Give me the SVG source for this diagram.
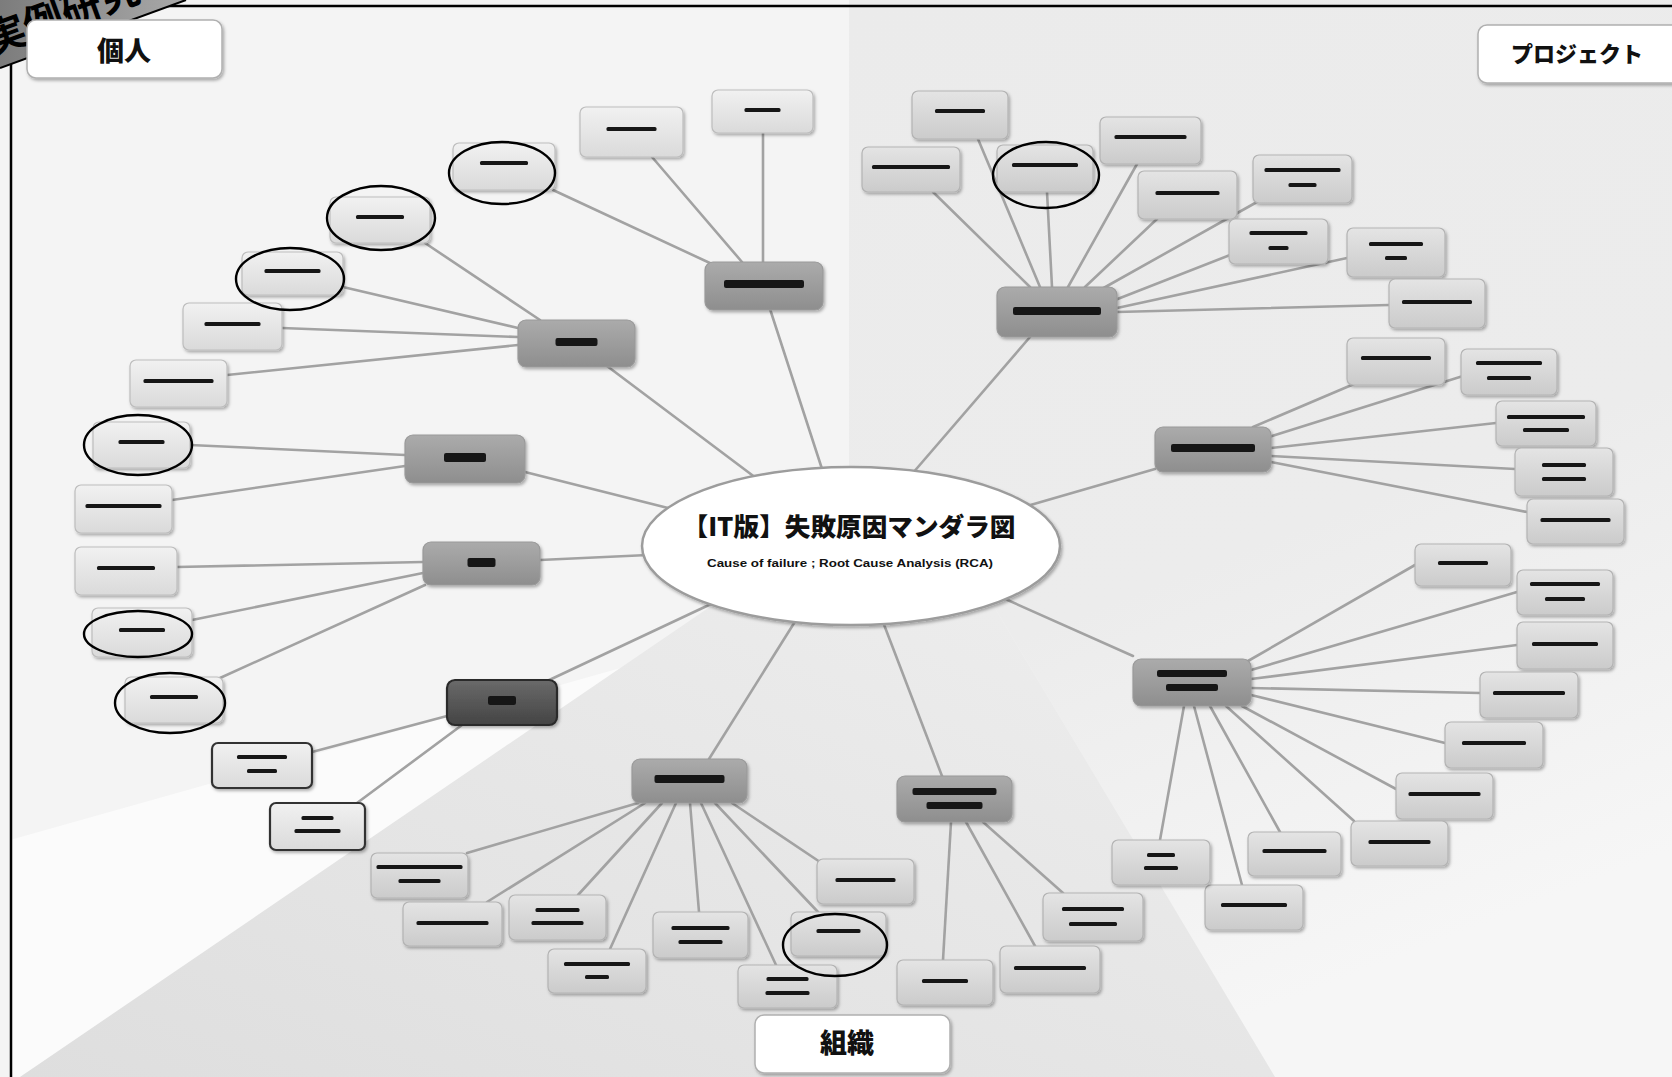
<svg xmlns="http://www.w3.org/2000/svg" width="1672" height="1077" viewBox="0 0 1672 1077">
  <defs>
    <linearGradient id="gTR" x1="0" y1="0" x2="0.3" y2="1">
      <stop offset="0" stop-color="#ebebeb"/>
      <stop offset="0.6" stop-color="#ececec"/>
      <stop offset="1" stop-color="#f6f6f6"/>
    </linearGradient>
    <linearGradient id="gWedge" x1="0" y1="1" x2="1" y2="0">
      <stop offset="0" stop-color="#dedede"/>
      <stop offset="1" stop-color="#eeeeee"/>
    </linearGradient>
    <linearGradient id="gLeaf" x1="0" y1="0" x2="0" y2="1">
      <stop offset="0" stop-color="#f1f1f1"/>
      <stop offset="1" stop-color="#dadada"/>
    </linearGradient>
    <linearGradient id="gLeaf2" x1="0" y1="0" x2="0" y2="1">
      <stop offset="0" stop-color="#e4e4e4"/>
      <stop offset="1" stop-color="#cbcbcb"/>
    </linearGradient>
    <linearGradient id="gCat" x1="0" y1="0" x2="0" y2="1">
      <stop offset="0" stop-color="#ababab"/>
      <stop offset="1" stop-color="#8e8e8e"/>
    </linearGradient>
    <linearGradient id="gDark" x1="0" y1="0" x2="0" y2="1">
      <stop offset="0" stop-color="#6a6a6a"/>
      <stop offset="1" stop-color="#444444"/>
    </linearGradient>
    <linearGradient id="gStamp" x1="0" y1="0" x2="1" y2="0">
      <stop offset="0" stop-color="#7c7c7c"/>
      <stop offset="1" stop-color="#a9a9a9"/>
    </linearGradient>
    <filter id="sh" x="-10%" y="-10%" width="125%" height="135%">
      <feDropShadow dx="1.5" dy="2" stdDeviation="1.5" flood-color="#000" flood-opacity="0.3"/>
    </filter>
    <filter id="soft"><feGaussianBlur stdDeviation="0.6"/></filter>
    <clipPath id="stampClip"><polygon points="0,0 186,0 0,68"/></clipPath>
  </defs>
  <style>
    .edge line { stroke: #a2a2a2; stroke-width: 2.6; stroke-linecap: round; }
    .box { filter: url(#sh); }
    .leaf .box { fill: url(#gLeaf); stroke: #bdbdbd; stroke-width: 1.2; }
    .leaf2 .box { fill: url(#gLeaf2); stroke: #b3b3b3; stroke-width: 1.2; }
    .dleaf .box { fill: url(#gLeaf); stroke: #333; stroke-width: 2.2; }
    .cat .box { fill: url(#gCat); stroke: #9a9a9a; stroke-width: 1.2; }
    .catd .box { fill: url(#gDark); stroke: #2a2a2a; stroke-width: 2.2; }
    .t { fill: #161616; filter: url(#soft); }
    .mark { fill: none; stroke: #000; stroke-width: 2.4; }
    .label .box { fill: #fff; stroke: #b0b0b0; stroke-width: 1.5; }
    .lt { font-family: "Noto Sans CJK JP", "Noto Sans CJK SC", sans-serif; font-weight: 900; fill: #111; text-anchor: middle; }
  </style>

  <!-- background regions -->
  <rect x="0" y="0" width="1672" height="1077" fill="#f4f4f4"/>
  <polygon points="849,0 1672,0 1672,1077 1275,1077 990,600 849,540" fill="url(#gTR)"/>
  <polygon points="720,640 10,840 10,1077 20,1077" fill="#fbfbfb"/>
  <polygon points="720,600 20,1077 1275,1077 990,600" fill="url(#gWedge)"/>

  <!-- outer frame -->
  <rect x="11" y="6" width="1690" height="1100" fill="none" stroke="#000" stroke-width="2.5"/>

  <!-- corner stamp -->
  <g id="stamp">
    <polygon points="0,0 186,0 0,68" fill="url(#gStamp)"/>
    <g clip-path="url(#stampClip)">
      <text x="-8" y="55" transform="rotate(-20 -8 55)" font-family="Noto Sans CJK JP, sans-serif" font-size="40" font-weight="700" fill="#000">実例研究</text>
    </g>
    <line x1="0" y1="68" x2="186" y2="0" stroke="#000" stroke-width="2"/>
  </g>

  <!-- connectors -->
  <g id="connectors" class="edge">
    <line x1="770" y1="309" x2="823" y2="472"/>
    <line x1="763" y1="133" x2="763" y2="262"/>
    <line x1="652" y1="157" x2="742" y2="262"/>
    <line x1="553" y1="190" x2="712" y2="264"/>
    <line x1="607" y1="366" x2="756" y2="478"/>
    <line x1="425" y1="243" x2="540" y2="320"/>
    <line x1="343" y1="287" x2="518" y2="328"/>
    <line x1="282" y1="328" x2="518" y2="337"/>
    <line x1="227" y1="375" x2="518" y2="345"/>
    <line x1="525" y1="472" x2="668" y2="508"/>
    <line x1="190" y1="445" x2="405" y2="455"/>
    <line x1="172" y1="500" x2="405" y2="466"/>
    <line x1="540" y1="560" x2="648" y2="555"/>
    <line x1="177" y1="567" x2="423" y2="562"/>
    <line x1="192" y1="620" x2="423" y2="573"/>
    <line x1="220" y1="678" x2="425" y2="585"/>
    <line x1="545" y1="682" x2="711" y2="604"/>
    <line x1="312" y1="752" x2="447" y2="716"/>
    <line x1="357" y1="803" x2="462" y2="725"/>
    <line x1="709" y1="759" x2="796" y2="620"/>
    <line x1="467" y1="853" x2="638" y2="803"/>
    <line x1="487" y1="902" x2="645" y2="803"/>
    <line x1="578" y1="895" x2="662" y2="803"/>
    <line x1="610" y1="949" x2="676" y2="803"/>
    <line x1="699" y1="912" x2="690" y2="803"/>
    <line x1="776" y1="965" x2="701" y2="803"/>
    <line x1="818" y1="912" x2="715" y2="803"/>
    <line x1="820" y1="862" x2="732" y2="803"/>
    <line x1="942" y1="776" x2="883" y2="622"/>
    <line x1="943" y1="960" x2="951" y2="822"/>
    <line x1="1035" y1="946" x2="966" y2="822"/>
    <line x1="1063" y1="893" x2="983" y2="822"/>
    <line x1="1030" y1="337" x2="912" y2="474"/>
    <line x1="978" y1="139" x2="1040" y2="287"/>
    <line x1="933" y1="192" x2="1030" y2="287"/>
    <line x1="1047" y1="192" x2="1052" y2="287"/>
    <line x1="1137" y1="164" x2="1068" y2="287"/>
    <line x1="1157" y1="219" x2="1085" y2="287"/>
    <line x1="1257" y1="202" x2="1100" y2="290"/>
    <line x1="1230" y1="255" x2="1115" y2="300"/>
    <line x1="1347" y1="258" x2="1117" y2="308"/>
    <line x1="1389" y1="305" x2="1117" y2="312"/>
    <line x1="1155" y1="469" x2="1027" y2="506"/>
    <line x1="1354" y1="384" x2="1253" y2="427"/>
    <line x1="1463" y1="376" x2="1269" y2="437"/>
    <line x1="1496" y1="423" x2="1271" y2="448"/>
    <line x1="1515" y1="469" x2="1271" y2="456"/>
    <line x1="1527" y1="512" x2="1271" y2="462"/>
    <line x1="1133" y1="656" x2="1003" y2="598"/>
    <line x1="1415" y1="565" x2="1248" y2="661"/>
    <line x1="1517" y1="592" x2="1251" y2="670"/>
    <line x1="1517" y1="645" x2="1251" y2="679"/>
    <line x1="1480" y1="693" x2="1251" y2="688"/>
    <line x1="1445" y1="743" x2="1251" y2="695"/>
    <line x1="1396" y1="789" x2="1242" y2="706"/>
    <line x1="1354" y1="821" x2="1226" y2="706"/>
    <line x1="1280" y1="832" x2="1210" y2="706"/>
    <line x1="1242" y1="885" x2="1194" y2="706"/>
    <line x1="1160" y1="840" x2="1184" y2="706"/>
  </g>

  <!-- central theme -->
  <g id="center">
    <ellipse cx="851" cy="546" rx="209" ry="79" fill="#fff" stroke="#9c9c9c" stroke-width="2.5" filter="url(#sh)"/>
    <text class="lt" x="849" y="536" font-size="25" textLength="333" lengthAdjust="spacingAndGlyphs">【IT版】失敗原因マンダラ図</text>
    <text x="850" y="567" font-family="Liberation Sans, Arial, sans-serif" font-size="11" font-weight="700" fill="#111" text-anchor="middle" textLength="286" lengthAdjust="spacingAndGlyphs">Cause of failure ; Root Cause Analysis (RCA)</text>
  </g>

  <!-- area labels -->
  <g id="lbl-kojin" class="label"><rect class="box" x="27" y="20" width="195" height="58" rx="9"/><text class="lt" x="124" y="61" font-size="27">個人</text></g>
  <g id="lbl-project" class="label"><rect class="box" x="1478" y="25" width="215" height="58" rx="9"/><text class="lt" x="1577" y="62" font-size="22">プロジェクト</text></g>
  <g id="lbl-soshiki" class="label"><rect class="box" x="755" y="1015" width="195" height="58" rx="9"/><text class="lt" x="847" y="1053" font-size="27">組織</text></g>

  <!-- category nodes -->
  <g id="catA" class="cat" transform="translate(705,262)"><rect class="box" width="118" height="48" rx="8"/><rect class="t" x="19" y="18" width="80" height="8" rx="2"/></g>
  <g id="catB" class="cat" transform="translate(518,320)"><rect class="box" width="117" height="47" rx="8"/><rect class="t" x="37.5" y="18" width="42" height="8" rx="2"/></g>
  <g id="catC" class="cat" transform="translate(405,435)"><rect class="box" width="120" height="48" rx="8"/><rect class="t" x="39" y="18" width="42" height="9" rx="2"/></g>
  <g id="catD" class="cat" transform="translate(423,542)"><rect class="box" width="117" height="43" rx="8"/><rect class="t" x="44.5" y="16" width="28" height="9" rx="2"/></g>
  <g id="catE" class="catd" transform="translate(447,680)"><rect class="box" width="110" height="45" rx="8"/><rect class="t" x="41" y="16" width="28" height="9" rx="2"/></g>
  <g id="catF" class="cat" transform="translate(632,759)"><rect class="box" width="115" height="44" rx="8"/><rect class="t" x="22.5" y="16" width="70" height="8" rx="2"/></g>
  <g id="catG" class="cat" transform="translate(897,776)"><rect class="box" width="115" height="46" rx="8"/><rect class="t" x="15.5" y="12" width="84" height="7" rx="2"/><rect class="t" x="29.5" y="26" width="56" height="7" rx="2"/></g>
  <g id="catH" class="cat" transform="translate(997,287)"><rect class="box" width="120" height="50" rx="8"/><rect class="t" x="16" y="20" width="88" height="8" rx="2"/></g>
  <g id="catI" class="cat" transform="translate(1155,427)"><rect class="box" width="116" height="45" rx="8"/><rect class="t" x="16" y="17" width="84" height="8" rx="2"/></g>
  <g id="catJ" class="cat" transform="translate(1133,659)"><rect class="box" width="118" height="47" rx="8"/><rect class="t" x="24" y="11" width="70" height="7" rx="2"/><rect class="t" x="33" y="25" width="52" height="7" rx="2"/></g>

  <!-- leaf nodes: 個人 -->
  <g id="a1" class="leaf" transform="translate(712,90)"><rect class="box" width="101" height="43" rx="6"/><rect class="t" x="32.5" y="18" width="36" height="4" rx="1.5"/></g>
  <g id="a2" class="leaf" transform="translate(580,107)"><rect class="box" width="103" height="50" rx="6"/><rect class="t" x="26.5" y="20" width="50" height="4" rx="1.5"/></g>
  <g id="a3" class="leaf" transform="translate(453,143)"><rect class="box" width="102" height="47" rx="6"/><rect class="t" x="27" y="18" width="48" height="4" rx="1.5"/></g>
  <g id="b1" class="leaf" transform="translate(330,197)"><rect class="box" width="100" height="46" rx="6"/><rect class="t" x="26" y="18" width="48" height="4" rx="1.5"/></g>
  <g id="b2" class="leaf" transform="translate(242,252)"><rect class="box" width="101" height="43" rx="6"/><rect class="t" x="22.5" y="17" width="56" height="4" rx="1.5"/></g>
  <g id="b3" class="leaf" transform="translate(183,303)"><rect class="box" width="99" height="47" rx="6"/><rect class="t" x="21.5" y="19" width="56" height="4" rx="1.5"/></g>
  <g id="b4" class="leaf" transform="translate(130,360)"><rect class="box" width="97" height="47" rx="6"/><rect class="t" x="13.5" y="19" width="70" height="4" rx="1.5"/></g>
  <g id="c1" class="leaf" transform="translate(93,422)"><rect class="box" width="97" height="46" rx="6"/><rect class="t" x="25.5" y="18" width="46" height="4" rx="1.5"/></g>
  <g id="c2" class="leaf" transform="translate(75,485)"><rect class="box" width="97" height="48" rx="6"/><rect class="t" x="10.5" y="19" width="76" height="4" rx="1.5"/></g>
  <g id="d1" class="leaf" transform="translate(75,547)"><rect class="box" width="102" height="48" rx="6"/><rect class="t" x="22" y="19" width="58" height="4" rx="1.5"/></g>
  <g id="d2" class="leaf" transform="translate(92,608)"><rect class="box" width="100" height="49" rx="6"/><rect class="t" x="27" y="20" width="46" height="4" rx="1.5"/></g>
  <g id="d3" class="leaf" transform="translate(125,677)"><rect class="box" width="98" height="46" rx="6"/><rect class="t" x="25" y="18" width="48" height="4" rx="1.5"/></g>
  <g id="e1" class="dleaf" transform="translate(212,743)"><rect class="box" width="100" height="45" rx="6"/><rect class="t" x="25" y="12" width="50" height="4" rx="1.5"/><rect class="t" x="35" y="26" width="30" height="4" rx="1.5"/></g>
  <g id="e2" class="dleaf" transform="translate(270,803)"><rect class="box" width="95" height="47" rx="6"/><rect class="t" x="31.5" y="13" width="32" height="4" rx="1.5"/><rect class="t" x="24.5" y="26" width="46" height="4" rx="1.5"/></g>

  <!-- leaf nodes: 組織 -->
  <g id="f1" class="leaf2" transform="translate(371,853)"><rect class="box" width="97" height="45" rx="6"/><rect class="t" x="5.5" y="12" width="86" height="4" rx="1.5"/><rect class="t" x="27.5" y="26" width="42" height="4" rx="1.5"/></g>
  <g id="f2" class="leaf2" transform="translate(403,902)"><rect class="box" width="99" height="44" rx="6"/><rect class="t" x="13.5" y="19" width="72" height="4" rx="1.5"/></g>
  <g id="f3" class="leaf2" transform="translate(509,895)"><rect class="box" width="97" height="45" rx="6"/><rect class="t" x="26.5" y="13" width="44" height="4" rx="1.5"/><rect class="t" x="22.5" y="26" width="52" height="4" rx="1.5"/></g>
  <g id="f4" class="leaf2" transform="translate(548,949)"><rect class="box" width="98" height="44" rx="6"/><rect class="t" x="16" y="13" width="66" height="4" rx="1.5"/><rect class="t" x="37" y="26" width="24" height="4" rx="1.5"/></g>
  <g id="f5" class="leaf2" transform="translate(653,912)"><rect class="box" width="95" height="46" rx="6"/><rect class="t" x="18.5" y="14" width="58" height="4" rx="1.5"/><rect class="t" x="25.5" y="28" width="44" height="4" rx="1.5"/></g>
  <g id="f6" class="leaf2" transform="translate(738,965)"><rect class="box" width="99" height="43" rx="6"/><rect class="t" x="28.5" y="12" width="42" height="4" rx="1.5"/><rect class="t" x="27.5" y="26" width="44" height="4" rx="1.5"/></g>
  <g id="f7" class="leaf2" transform="translate(791,912)"><rect class="box" width="95" height="44" rx="6"/><rect class="t" x="25.5" y="17" width="44" height="4" rx="1.5"/></g>
  <g id="f8" class="leaf2" transform="translate(817,859)"><rect class="box" width="97" height="45" rx="6"/><rect class="t" x="18.5" y="19" width="60" height="4" rx="1.5"/></g>
  <g id="g1" class="leaf2" transform="translate(897,960)"><rect class="box" width="96" height="45" rx="6"/><rect class="t" x="25" y="19" width="46" height="4" rx="1.5"/></g>
  <g id="g2" class="leaf2" transform="translate(1000,946)"><rect class="box" width="100" height="47" rx="6"/><rect class="t" x="14" y="20" width="72" height="4" rx="1.5"/></g>
  <g id="g3" class="leaf2" transform="translate(1043,893)"><rect class="box" width="100" height="48" rx="6"/><rect class="t" x="19" y="14" width="62" height="4" rx="1.5"/><rect class="t" x="26" y="29" width="48" height="4" rx="1.5"/></g>

  <!-- leaf nodes: プロジェクト -->
  <g id="h1" class="leaf2" transform="translate(912,91)"><rect class="box" width="96" height="48" rx="6"/><rect class="t" x="23" y="18" width="50" height="4" rx="1.5"/></g>
  <g id="h2" class="leaf2" transform="translate(862,147)"><rect class="box" width="98" height="45" rx="6"/><rect class="t" x="10" y="18" width="78" height="4" rx="1.5"/></g>
  <g id="h3" class="leaf2" transform="translate(997,145)"><rect class="box" width="96" height="47" rx="6"/><rect class="t" x="15" y="18" width="66" height="4" rx="1.5"/></g>
  <g id="h4" class="leaf2" transform="translate(1100,117)"><rect class="box" width="101" height="47" rx="6"/><rect class="t" x="14.5" y="18" width="72" height="4" rx="1.5"/></g>
  <g id="h5" class="leaf2" transform="translate(1138,171)"><rect class="box" width="99" height="48" rx="6"/><rect class="t" x="17.5" y="20" width="64" height="4" rx="1.5"/></g>
  <g id="h6" class="leaf2" transform="translate(1253,155)"><rect class="box" width="99" height="48" rx="6"/><rect class="t" x="11.5" y="13" width="76" height="4" rx="1.5"/><rect class="t" x="35.5" y="28" width="28" height="4" rx="1.5"/></g>
  <g id="h7" class="leaf2" transform="translate(1229,219)"><rect class="box" width="99" height="45" rx="6"/><rect class="t" x="20.5" y="12" width="58" height="4" rx="1.5"/><rect class="t" x="39.5" y="27" width="20" height="4" rx="1.5"/></g>
  <g id="h8" class="leaf2" transform="translate(1347,228)"><rect class="box" width="98" height="49" rx="6"/><rect class="t" x="22" y="14" width="54" height="4" rx="1.5"/><rect class="t" x="38" y="28" width="22" height="4" rx="1.5"/></g>
  <g id="h9" class="leaf2" transform="translate(1389,279)"><rect class="box" width="96" height="49" rx="6"/><rect class="t" x="13" y="21" width="70" height="4" rx="1.5"/></g>
  <g id="i1" class="leaf2" transform="translate(1347,338)"><rect class="box" width="98" height="47" rx="6"/><rect class="t" x="14" y="18" width="70" height="4" rx="1.5"/></g>
  <g id="i2" class="leaf2" transform="translate(1461,349)"><rect class="box" width="96" height="46" rx="6"/><rect class="t" x="15" y="12" width="66" height="4" rx="1.5"/><rect class="t" x="26" y="27" width="44" height="4" rx="1.5"/></g>
  <g id="i3" class="leaf2" transform="translate(1496,401)"><rect class="box" width="100" height="45" rx="6"/><rect class="t" x="11" y="14" width="78" height="4" rx="1.5"/><rect class="t" x="27" y="27" width="46" height="4" rx="1.5"/></g>
  <g id="i4" class="leaf2" transform="translate(1515,448)"><rect class="box" width="98" height="48" rx="6"/><rect class="t" x="27" y="15" width="44" height="4" rx="1.5"/><rect class="t" x="27" y="29" width="44" height="4" rx="1.5"/></g>
  <g id="i5" class="leaf2" transform="translate(1527,499)"><rect class="box" width="97" height="45" rx="6"/><rect class="t" x="13.5" y="19" width="70" height="4" rx="1.5"/></g>
  <g id="j1" class="leaf2" transform="translate(1415,544)"><rect class="box" width="96" height="42" rx="6"/><rect class="t" x="23" y="17" width="50" height="4" rx="1.5"/></g>
  <g id="j2" class="leaf2" transform="translate(1517,570)"><rect class="box" width="96" height="45" rx="6"/><rect class="t" x="13" y="12" width="70" height="4" rx="1.5"/><rect class="t" x="28" y="27" width="40" height="4" rx="1.5"/></g>
  <g id="j3" class="leaf2" transform="translate(1517,622)"><rect class="box" width="96" height="47" rx="6"/><rect class="t" x="15" y="20" width="66" height="4" rx="1.5"/></g>
  <g id="j4" class="leaf2" transform="translate(1480,672)"><rect class="box" width="98" height="46" rx="6"/><rect class="t" x="13" y="19" width="72" height="4" rx="1.5"/></g>
  <g id="j5" class="leaf2" transform="translate(1445,722)"><rect class="box" width="98" height="46" rx="6"/><rect class="t" x="17" y="19" width="64" height="4" rx="1.5"/></g>
  <g id="j6" class="leaf2" transform="translate(1396,773)"><rect class="box" width="97" height="46" rx="6"/><rect class="t" x="12.5" y="19" width="72" height="4" rx="1.5"/></g>
  <g id="j7" class="leaf2" transform="translate(1351,821)"><rect class="box" width="97" height="45" rx="6"/><rect class="t" x="17.5" y="19" width="62" height="4" rx="1.5"/></g>
  <g id="j8" class="leaf2" transform="translate(1248,832)"><rect class="box" width="93" height="44" rx="6"/><rect class="t" x="14.5" y="17" width="64" height="4" rx="1.5"/></g>
  <g id="j9" class="leaf2" transform="translate(1205,885)"><rect class="box" width="98" height="45" rx="6"/><rect class="t" x="16" y="18" width="66" height="4" rx="1.5"/></g>
  <g id="j10" class="leaf2" transform="translate(1112,840)"><rect class="box" width="98" height="45" rx="6"/><rect class="t" x="35" y="13" width="28" height="4" rx="1.5"/><rect class="t" x="32" y="26" width="34" height="4" rx="1.5"/></g>

  <!-- hand-drawn emphasis rings -->
  <g id="marks" class="mark">
    <ellipse cx="502" cy="173" rx="53" ry="31"/>
    <ellipse cx="381" cy="218" rx="54" ry="32"/>
    <ellipse cx="290" cy="279" rx="54" ry="31"/>
    <ellipse cx="138" cy="445" rx="54" ry="30"/>
    <ellipse cx="138" cy="634" rx="54" ry="23"/>
    <ellipse cx="170" cy="703" rx="55" ry="30"/>
    <ellipse cx="835" cy="945" rx="52" ry="31"/>
    <ellipse cx="1046" cy="175" rx="53" ry="33"/>
  </g>
</svg>
